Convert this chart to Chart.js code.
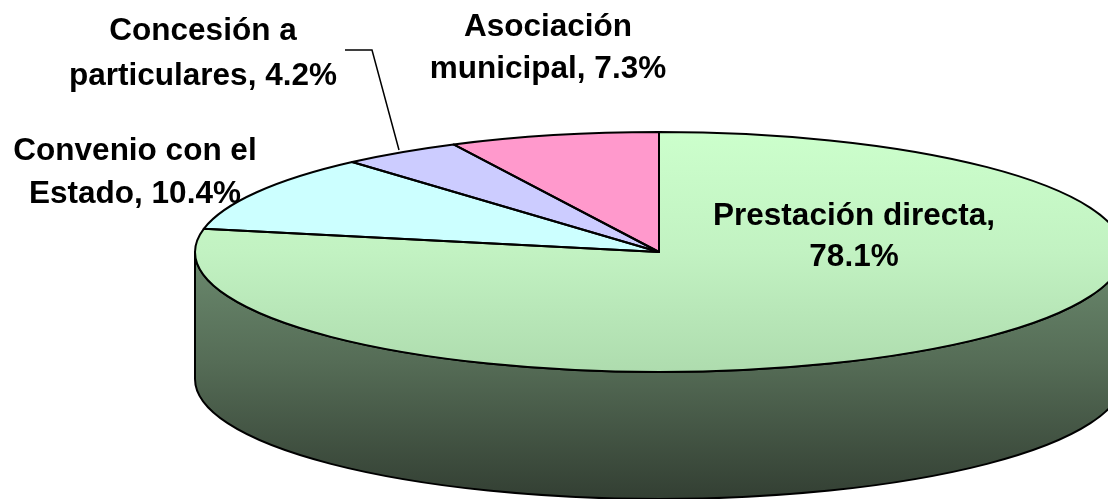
<!DOCTYPE html>
<html lang="es">
<head>
<meta charset="utf-8">
<title>Prestación del servicio</title>
<style>
    html, body { margin: 0; padding: 0; background: #fff; overflow: hidden; }
    canvas { display: block; }
</style>
</head>
<body>
<canvas id="pie-chart" width="1108" height="499"></canvas>
<script src="https://cdn.jsdelivr.net/npm/chart.js@4/dist/chart.umd.min.js"></script>
<script>
// 1. Data
const categories = ['Prestación directa', 'Convenio con el Estado', 'Concesión a particulares', 'Asociación municipal'];
const shares = [78.1, 10.4, 4.2, 7.3];
const sliceColors = ['#ccffcc', '#ccffff', '#ccccff', '#ff99cc'];
const labelBreakAfterWord = [2, 3, 2, 1];

// 2. Where things sit on the page (the pie is squashed into this ellipse)
const pie = { x: 659, y: 252, rx: 464, ry: 120, depth: 127 };
const labelSpots = [
    { x: 854, y: 216, gap: 41 },
    { x: 135, y: 151, gap: 43 },
    { x: 203, y: 31, gap: 45 },
    { x: 548, y: 27, gap: 42 }
];
const leader = [[345, 50], [372, 50], [399, 150]];

// Green slice has a soft top-to-bottom shade, in the chart's own (unsquashed) coordinates
function sliceFill(context) {
    const area = context.chart.chartArea;
    if (context.dataIndex !== 0 || !area) return sliceColors[context.dataIndex];
    const gradient = context.chart.ctx.createLinearGradient(0, area.top, 0, area.bottom);
    gradient.addColorStop(0, '#ccffcc');
    gradient.addColorStop(0.5, '#c2f2c2');
    gradient.addColorStop(1, '#aedcae');
    return gradient;
}

// 3. Plugin that gives the pie its 3D look
const flatPiePlugin = {
    id: 'flatPie',
    beforeDatasetsDraw(chart) {
        const ctx = chart.ctx;
        const arc = chart.getDatasetMeta(0).data[0];

        // side wall
        const wall = ctx.createLinearGradient(0, pie.y, 0, pie.y + pie.ry + pie.depth);
        wall.addColorStop(0, '#6b8a6e');
        wall.addColorStop(0.45, '#556c56');
        wall.addColorStop(1, '#333f33');
        ctx.save();
        ctx.beginPath();
        ctx.ellipse(pie.x, pie.y, pie.rx, pie.ry, 0, 0, Math.PI);
        ctx.lineTo(pie.x - pie.rx, pie.y + pie.depth);
        ctx.ellipse(pie.x, pie.y + pie.depth, pie.rx, pie.ry, 0, Math.PI, 0, true);
        ctx.closePath();
        ctx.fillStyle = wall;
        ctx.fill();
        ctx.lineWidth = 2;
        ctx.strokeStyle = '#000';
        ctx.stroke();
        ctx.restore();

        // squash the round pie that Chart.js draws
        ctx.save();
        ctx.translate(pie.x, pie.y);
        ctx.scale(pie.rx / arc.outerRadius, pie.ry / arc.outerRadius);
        ctx.translate(-arc.x, -arc.y);
    },
    afterDatasetsDraw(chart) {
        const ctx = chart.ctx;
        ctx.restore();

        // outlines stay an even width, so they are stroked after the squash is undone
        ctx.save();
        ctx.lineWidth = 2;
        ctx.lineJoin = 'round';
        ctx.strokeStyle = '#000';
        chart.getDatasetMeta(0).data.forEach(arc => {
            ctx.beginPath();
            ctx.moveTo(pie.x, pie.y);
            ctx.ellipse(pie.x, pie.y, pie.rx, pie.ry, 0, arc.startAngle, arc.endAngle);
            ctx.closePath();
            ctx.stroke();
        });

        // leader line for the small slice
        ctx.lineWidth = 1.5;
        ctx.lineJoin = 'miter';
        ctx.beginPath();
        leader.forEach((p, i) => i ? ctx.lineTo(p[0], p[1]) : ctx.moveTo(p[0], p[1]));
        ctx.stroke();

        // slice labels
        ctx.fillStyle = '#000';
        ctx.font = 'bold 31.5px "Liberation Sans", Arial, sans-serif';
        ctx.textAlign = 'center';
        ctx.textBaseline = 'middle';
        categories.forEach((name, i) => {
            const words = `${name}, ${shares[i]}%`.split(' ');
            const cut = labelBreakAfterWord[i];
            const spot = labelSpots[i];
            ctx.fillText(words.slice(0, cut).join(' '), spot.x, spot.y);
            ctx.fillText(words.slice(cut).join(' '), spot.x, spot.y + spot.gap);
        });
        ctx.restore();
    }
};

// 4. Build the chart
new Chart(document.getElementById('pie-chart'), {
    type: 'pie',
    data: {
        labels: categories,
        datasets: [{
            data: shares,
            backgroundColor: sliceFill,
            borderWidth: 0,
            clip: false
        }]
    },
    options: {
        responsive: false,
        animation: false,
        layout: { padding: 0 },
        plugins: {
            legend: { display: false },
            tooltip: { enabled: false }
        }
    },
    plugins: [flatPiePlugin]
});
</script>
</body>
</html>
